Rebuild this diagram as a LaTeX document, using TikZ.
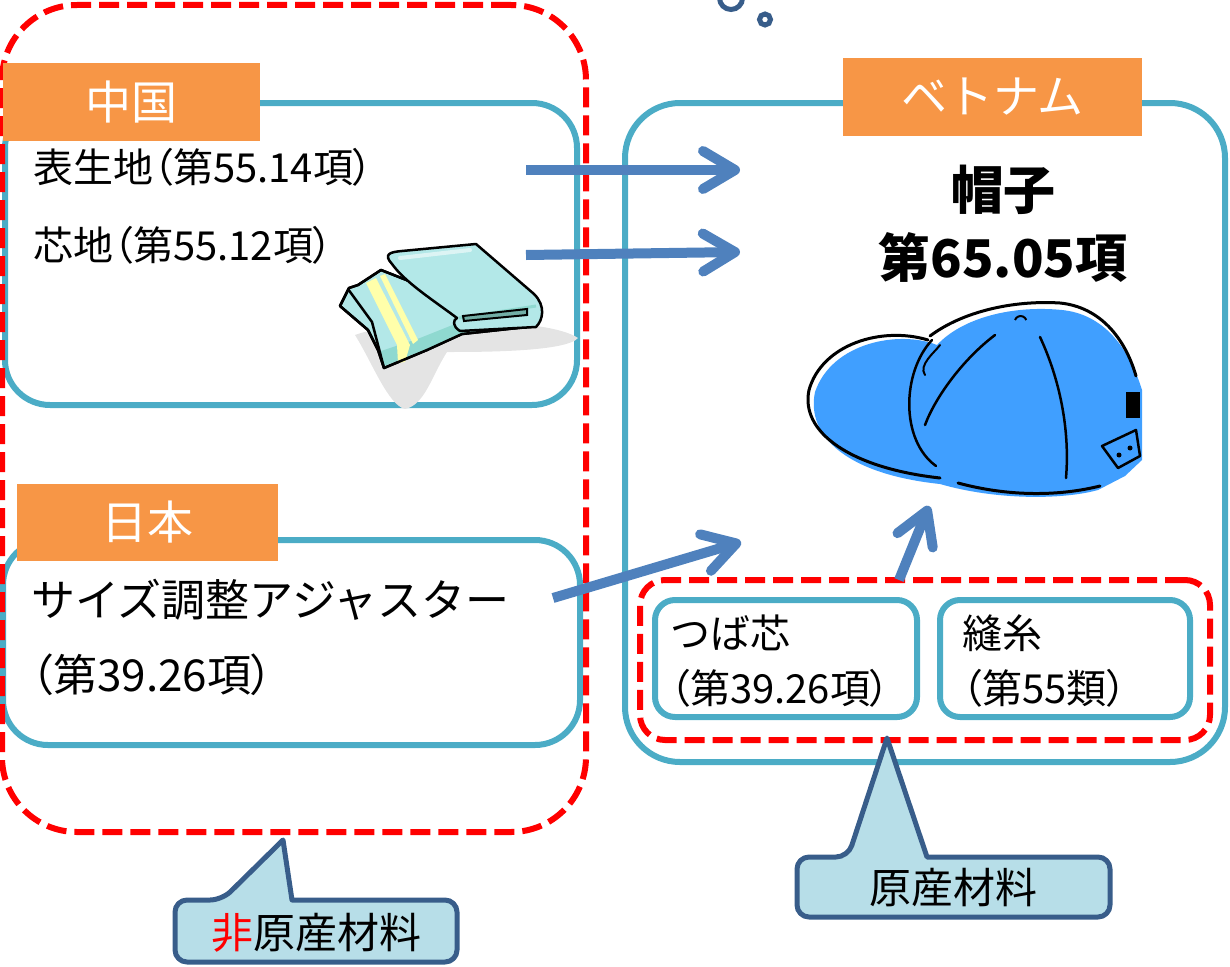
\documentclass[tikz,border=0pt]{standalone}
\usepackage{fontspec}
\setmainfont{Noto Sans CJK JP}
\newfontfamily\jpprop[RawFeature=+palt]{Noto Sans CJK JP}
\usetikzlibrary{arrows.meta}

\definecolor{boxblue}{HTML}{4BACC6}
\definecolor{tagorange}{HTML}{F79646}
\definecolor{arrowblue}{HTML}{4F81BD}
\definecolor{calloutfill}{HTML}{B7DEE8}
\definecolor{calloutline}{HTML}{385D8A}
\definecolor{capblue}{HTML}{409FFF}
\definecolor{clothcyan}{HTML}{B3E8E8}
\definecolor{clothdark}{HTML}{8FD9D0}
\definecolor{clothyellow}{HTML}{FFFFAA}
\definecolor{shadowgray}{HTML}{E4E4E4}

% proportional full-width parentheses
\newcommand{\jlp}{{\jpprop （}}
\newcommand{\jrp}{{\jpprop ）}}

\begin{document}
\begin{tikzpicture}[x=1pt,y=-1pt,
  region/.style={draw=boxblue, line width=6pt, rounded corners=45pt, inner sep=0pt},
  smallbox/.style={draw=boxblue, line width=6pt, rounded corners=20pt, inner sep=0pt},
  reddash/.style={draw=red, line width=6pt, dash pattern=on 20pt off 8pt, inner sep=0pt},
  tag/.style={fill=tagorange, text=white, inner sep=0pt, font=\fontsize{46}{50}\selectfont},
  body/.style={anchor=west, inner sep=0pt, font=\fontsize{40}{44}\selectfont},
  bigbody/.style={anchor=west, inner sep=0pt, font=\fontsize{44}{50}\selectfont},
  title/.style={inner sep=0pt, font=\fontsize{52}{58}\selectfont\bfseries},
  flow/.style={draw=arrowblue, line width=10pt,
    -{Straight Barb[length=32pt,width=38pt,round]}},
  callout/.style={fill=calloutfill, draw=calloutline, line width=5pt, line join=round},
  calltext/.style={inner sep=0pt, font=\fontsize{42}{46}\selectfont}
]
\useasboundingbox (0,0) rectangle (1230,966);

% ---- country frames ----
\node[region, minimum width=572pt, minimum height=302pt] (cnbox) at (291,254) {};
\node[region, minimum width=577pt, minimum height=205pt] (jpbox) at (291.5,642.5) {};
\node[region, rounded corners=55pt, minimum width=600pt, minimum height=659pt] (vnbox) at (925,432.5) {};

% ---- material groups (dashed) ----
\node[reddash, rounded corners=75pt, minimum width=584pt, minimum height=827pt] (nonorig) at (294,418.5) {};
\node[reddash, rounded corners=25pt, minimum width=570pt, minimum height=160pt] (orig) at (925,660) {};

% ---- parts inside Vietnam ----
\node[smallbox, minimum width=262pt, minimum height=117pt] (visorbox) at (786,658.5) {};
\node[smallbox, minimum width=250pt, minimum height=117pt] (threadbox) at (1065,658.5) {};

% ---- country tags ----
\node[tag, minimum width=257pt, minimum height=78pt] (cntag) at (131.5,102) {中国};
\node[tag, minimum width=261pt, minimum height=77pt] (jptag) at (147.5,522.5) {日本};
\node[tag, minimum width=299pt, minimum height=78pt] (vntag) at (992.5,97) {ベトナム};

% ---- texts ----
\node[body] (surface) at (33,167) {表生地\jlp 第55.14項\jrp};
\node[body] (interlining) at (33,245) {芯地\jlp 第55.12項\jrp};
\node[bigbody] (adjuster) at (31,600) {サイズ調整アジャスター};
\node[bigbody] (adjustercode) at (31,675) {\jlp 第39.26項\jrp};
\node[title] (hat) at (1003,190) {帽子};
\node[title] (hatcode) at (1003,258) {第65.05項};
\node[body] (visor) at (670,633) {つば芯};
\node[body] (visorcode) at (670,688) {\jlp 第39.26項\jrp};
\node[body] (thread) at (962,633) {縫糸};
\node[body] (threadcode) at (962,688) {\jlp 第55類\jrp};

% ---- folded cloth ----
\fill[shadowgray] (355,335) .. controls (400,318) and (545,316) .. (578,338)
  .. controls (566,352) and (480,352) .. (447,352)
  .. controls (432,375) and (425,405) .. (405,409)
  .. controls (388,405) and (372,362) .. (355,335) -- cycle;
\filldraw[fill=clothcyan, draw=black, line width=2.5pt, line join=round]
  (340,306) -- (349,288) -- (358,285) -- (381,270) -- (470,305) -- (536,326)
  -- (462,334) -- (427,350) -- (384,368) -- (378,350) -- (368,330) -- cycle;
\fill[clothdark] (378,352) -- (384,366) -- (427,349) -- (462,333) -- (536,326) -- (470,318) -- (420,338) -- cycle;
\fill[clothyellow] (366,283) -- (376,278) -- (410,345) -- (405,362) -- (398,363) -- (397,345) -- cycle;
\fill[clothyellow] (380,276) -- (385,274) -- (418,340) -- (413,344) -- cycle;
\draw[black, line width=2.5pt, line join=round]
  (340,306) -- (349,288) -- (358,285) -- (381,270) -- (470,305) -- (536,326)
  -- (462,334) -- (427,350) -- (384,368) -- (378,350) -- (368,330) -- cycle;
\draw[black, line width=2.5pt] (348,289) -- (372,322) -- (384,368);
\filldraw[fill=clothcyan, draw=black, line width=2.5pt, line join=round]
  (392,264) .. controls (383,254) and (390,252) .. (402,251) -- (476,244)
  -- (534,294) .. controls (546,306) and (543,320) .. (536,327)
  -- (460,331) .. controls (452,326) and (453,320) .. (457,318)
  .. controls (430,298) and (405,282) .. (392,264) -- cycle;
\draw[white, line width=4pt, opacity=0.55, line cap=round] (400,258) -- (470,250);
\draw[clothdark, line width=3pt] (459,318) -- (536,306);
\filldraw[fill=clothdark!80!black, draw=black, line width=2pt]
  (463,316) -- (527,309) -- (527,315) -- (464,321) -- cycle;

% ---- cap ----
\fill[capblue] (937,345) .. controls (900,330) and (832,342) .. (815,392)
  .. controls (806,435) and (845,474) .. (940,484)
  .. controls (995,500) and (1062,500) .. (1098,490)
  -- (1125,476) -- (1142,460) -- (1142,390)
  .. controls (1128,345) and (1102,314) .. (1062,310)
  .. controls (1012,305) and (962,318) .. (937,345) -- cycle;
\draw[black, line width=3pt, line cap=round]
  (928,340) .. controls (882,326) and (822,344) .. (809,390)
  .. controls (800,432) and (850,468) .. (940,478);
\draw[black, line width=3pt, line cap=round]
  (930,336) .. controls (962,312) and (1012,300) .. (1060,303)
  .. controls (1100,307) and (1125,338) .. (1136,376);
\draw[black, line width=3pt, line cap=round]
  (958,483) .. controls (1010,497) and (1060,496) .. (1100,486);
\draw[black, line width=2.5pt, line cap=round]
  (932,340) .. controls (902,372) and (900,440) .. (936,466);
\draw[black, line width=2.5pt, line cap=round]
  (995,335) .. controls (962,360) and (935,398) .. (925,425);
\draw[black, line width=2.5pt, line cap=round]
  (1040,337) .. controls (1060,380) and (1070,430) .. (1066,478);
\draw[black, line width=2pt, line cap=round]
  (925,375) .. controls (918,365) and (935,352) .. (940,345);
\draw[black, line width=2pt] (1015,320) arc (200:340:6);
\fill[black] (1126,392) rectangle (1140,418);
\filldraw[fill=capblue, draw=black, line width=2.5pt, line join=round]
  (1102,446) -- (1136,430) -- (1140,456) -- (1118,468) -- cycle;
\fill[black] (1119,455) circle (2.5) (1130,448) circle (2.5);

% ---- flows into Vietnam ----
\coordinate (f1s) at (526,170);
\coordinate (f1e) at (740,170);
\coordinate (f2s) at (526,255);
\coordinate (f2e) at (740,252);
\coordinate (f3s) at (553,598);
\coordinate (f3e) at (741,542);
\coordinate (f4s) at (899,580);
\coordinate (f4e) at (929,506);
\draw[flow] (f1s) -- (f1e);
\draw[flow] (f2s) -- (f2e);
\draw[flow] (f3s) -- (f3e);
\draw[flow] (f4s) -- (f4e);

% ---- callouts ----
\draw[callout, rounded corners=12pt] (222,900) [sharp corners] -- (283,840) -- (292,900)
  [rounded corners=12pt] -- (457,900) -- (457,962) -- (175,962) -- (175,900) -- cycle;
\node[calltext] (nonlabel) at (316,933) {{\color{red}非}原産材料};
\draw[callout, rounded corners=12pt] (848,857) [sharp corners] -- (887,738) -- (927,857)
  [rounded corners=12pt] -- (1110,857) -- (1110,917) -- (797,917) -- (797,857) -- cycle;
\node[calltext] (origlabel) at (953,888) {原産材料};

% ---- thought bubbles ----
\draw[calloutline, line width=5pt] (731,-2) circle (11.5);
\draw[calloutline, line width=5pt] (765,19.5) circle (5.5);
\end{tikzpicture}
\end{document}
